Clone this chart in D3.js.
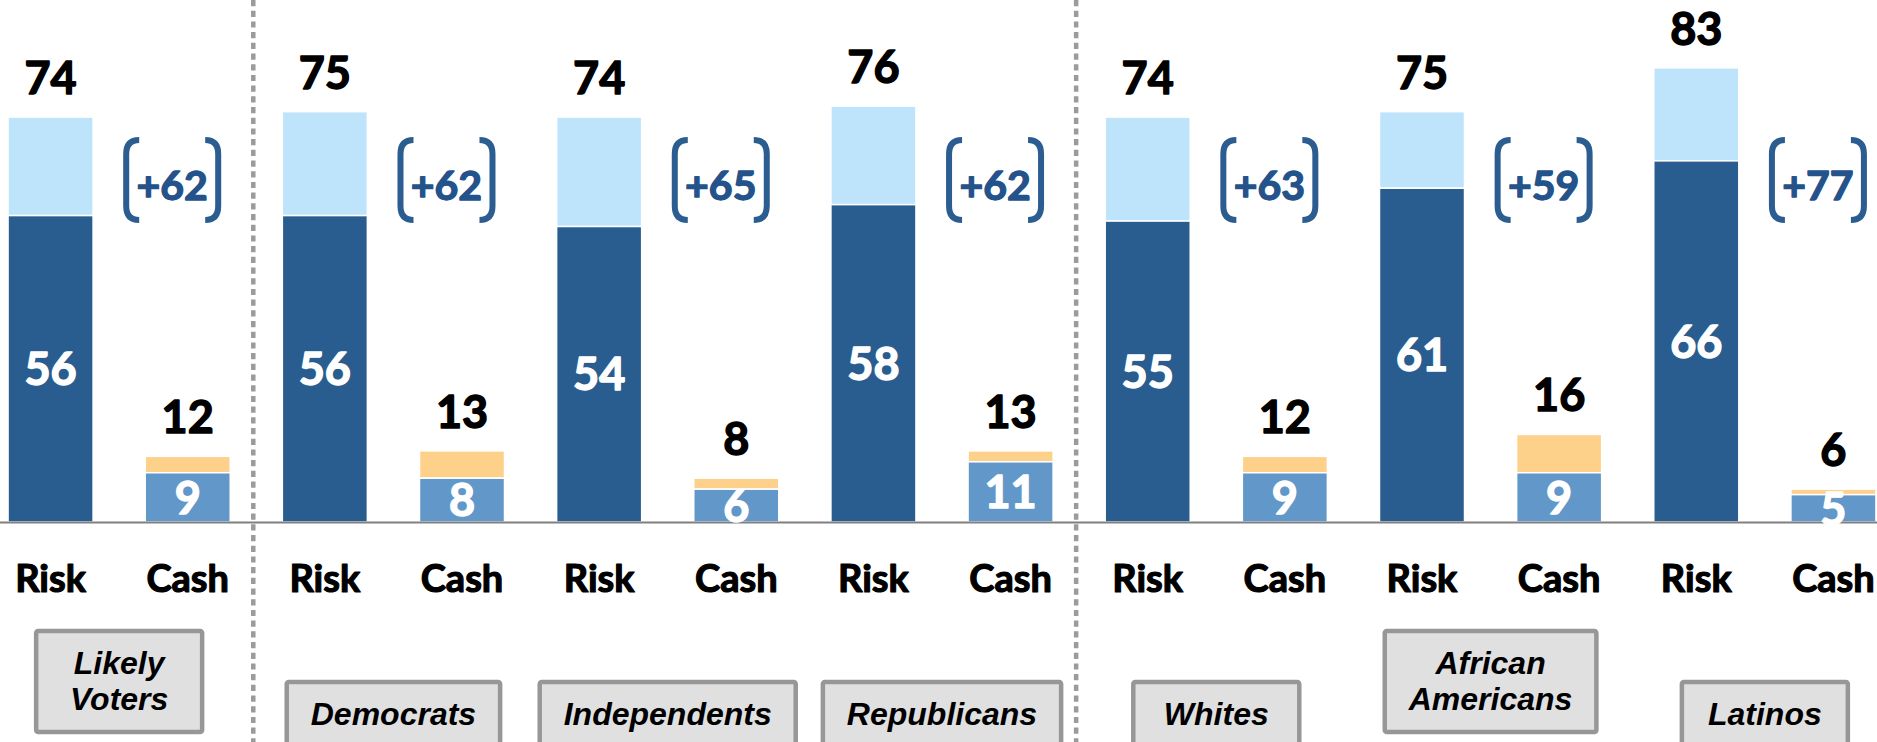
<!DOCTYPE html>
<html>
<head>
<meta charset="utf-8">
<script src="https://cdn.jsdelivr.net/npm/d3@7"></script>
<style>
  html, body { margin: 0; padding: 0; background: #fff; }
  svg { display: block; }
</style>
</head>
<body>
<svg id="chart" width="1877" height="742"></svg>
<script>
// ---- data ----
const groups = ["Likely Voters", "Democrats", "Independents", "Republicans", "Whites", "African Americans", "Latinos"];
const groupLines = [["Likely", "Voters"], ["Democrats"], ["Independents"], ["Republicans"], ["Whites"], ["African", "Americans"], ["Latinos"]];
const options = ["Risk", "Cash"];
const riskTotal = [74, 75, 74, 76, 74, 75, 83];
const riskStrong = [56, 56, 54, 58, 55, 61, 66];
const cashTotal = [12, 13, 8, 13, 12, 16, 6];
const cashStrong = [9, 8, 6, 11, 9, 9, 5];
const margins = ["+62", "+62", "+65", "+62", "+63", "+59", "+77"];
const dividerAfter = [0, 3];

// ---- layout ----
const W = 1877, H = 742;
const baseY = 522;
const svg = d3.select("#chart");

const keys = [];
groups.forEach(g => options.forEach(o => keys.push(g + "|" + o)));

const x = d3.scaleBand().domain(keys).range([-18, 1902]).paddingInner(0.38).paddingOuter(0.19);
const y = d3.scaleLinear().domain([0, 95.4]).range([baseY, 0]);

const colors = { riskStrong: "#2A5D8F", riskSoft: "#BEE4FC", cashStrong: "#6297C9", cashSoft: "#FDD18A" };
const numFont = "Lato, 'Open Sans', sans-serif";

function heavy(sel, color, w) {
  return sel.attr("fill", color).attr("stroke", color).attr("stroke-width", w)
    .attr("stroke-linejoin", "round").style("paint-order", "stroke");
}

// build bar records
const bars = [];
groups.forEach((g, i) => {
  bars.push({ key: g + "|Risk", total: riskTotal[i], strong: riskStrong[i], cs: colors.riskStrong, cw: colors.riskSoft });
  bars.push({ key: g + "|Cash", total: cashTotal[i], strong: cashStrong[i], cs: colors.cashStrong, cw: colors.cashSoft });
});

// dividers
dividerAfter.forEach(i => {
  const k = groups[i] + "|Cash";
  const xd = x(k) + x.bandwidth() + (x.step() - x.bandwidth()) / 2 - 3;
  svg.append("line")
    .attr("x1", xd).attr("x2", xd).attr("y1", 0).attr("y2", H)
    .attr("stroke", "#9b9b9b").attr("stroke-width", 4.5)
    .attr("stroke-dasharray", "6.2,4.5");
});

// bars
const bg = svg.append("g");
bars.forEach(b => {
  bg.append("rect")
    .attr("x", x(b.key)).attr("width", x.bandwidth())
    .attr("y", y(b.total)).attr("height", y(b.strong) - y(b.total))
    .attr("fill", b.cw).attr("stroke", "#fff").attr("stroke-width", 1.5);
  bg.append("rect")
    .attr("x", x(b.key)).attr("width", x.bandwidth())
    .attr("y", y(b.strong)).attr("height", y(0) - y(b.strong))
    .attr("fill", b.cs).attr("stroke", "#fff").attr("stroke-width", 1.5);
});

// axis
const axis = d3.axisBottom(x).tickSize(0).tickSizeOuter(0).tickFormat(k => k.split("|")[1]);
const ag = svg.append("g").attr("transform", `translate(0,${baseY})`).call(axis);
ag.select(".domain").attr("stroke", "#808080").attr("stroke-width", 2.2);
heavy(ag.selectAll(".tick text")
  .attr("y", 70).attr("dy", 0)
  .attr("font-family", numFont).attr("font-weight", 700).attr("font-size", 38), "#000", 1.2);

// labels
bars.forEach(b => {
  const cx = x(b.key) + x.bandwidth() / 2;
  heavy(svg.append("text")
    .attr("x", cx).attr("y", y(b.total) - 23)
    .attr("text-anchor", "middle")
    .attr("font-family", numFont).attr("font-weight", 700).attr("font-size", 45)
    .text(b.total), "#000", 1.4);
  heavy(svg.append("text")
    .attr("x", cx).attr("y", (y(b.strong) + y(0)) / 2)
    .attr("dy", "0.36em")
    .attr("text-anchor", "middle")
    .attr("font-family", numFont).attr("font-weight", 700).attr("font-size", 45)
    .text(b.strong), "#fff", 1.4);
});

// margin brackets
const bracketColor = "#2B5D91";
groups.forEach((g, i) => {
  const cx = x(g + "|Cash") + 27;
  const t = 140, bt = 220, hx = 46, ex = 33, r = 14;
  const grp = svg.append("g");
  grp.append("path")
    .attr("d", `M${cx - ex},${t} Q${cx - hx},${t} ${cx - hx},${t + r} L${cx - hx},${bt - r} Q${cx - hx},${bt} ${cx - ex},${bt}`)
    .attr("fill", "none").attr("stroke", bracketColor).attr("stroke-width", 6);
  grp.append("path")
    .attr("d", `M${cx + ex},${t} Q${cx + hx},${t} ${cx + hx},${t + r} L${cx + hx},${bt - r} Q${cx + hx},${bt} ${cx + ex},${bt}`)
    .attr("fill", "none").attr("stroke", bracketColor).attr("stroke-width", 6);
  heavy(grp.append("text")
    .attr("x", cx).attr("y", 200)
    .attr("text-anchor", "middle")
    .attr("font-family", numFont).attr("font-weight", 700).attr("font-size", 41)
    .text(margins[i]), "#24528A", 1.3);
});

// group boxes
groups.forEach((g, i) => {
  const lines = groupLines[i];
  const cx = (x(g + "|Risk") + x(g + "|Cash") + x.bandwidth()) / 2;
  const top = lines.length > 1 ? 631 : 682;
  const h = lines.length > 1 ? 101 : 66;
  const grp = svg.append("g");
  const rect = grp.append("rect");
  const txt = grp.append("text")
    .attr("text-anchor", "middle")
    .attr("font-family", "'Liberation Sans', Arial, sans-serif")
    .attr("font-weight", 700).attr("font-style", "italic").attr("font-size", 32)
    .attr("fill", "#000");
  lines.forEach((ln, j) => {
    txt.append("tspan").attr("x", cx).attr("y", top + 43 + j * 36).text(ln);
  });
  let tw = 0;
  txt.selectAll("tspan").each(function () { tw = Math.max(tw, this.getComputedTextLength()); });
  const w = Math.max(tw + 48, 166);
  rect.attr("x", cx - w / 2).attr("y", top).attr("width", w).attr("height", h)
    .attr("rx", 2)
    .attr("fill", "#E0E0E0").attr("stroke", "#979797").attr("stroke-width", 4.5);
});
</script>
</body>
</html>
